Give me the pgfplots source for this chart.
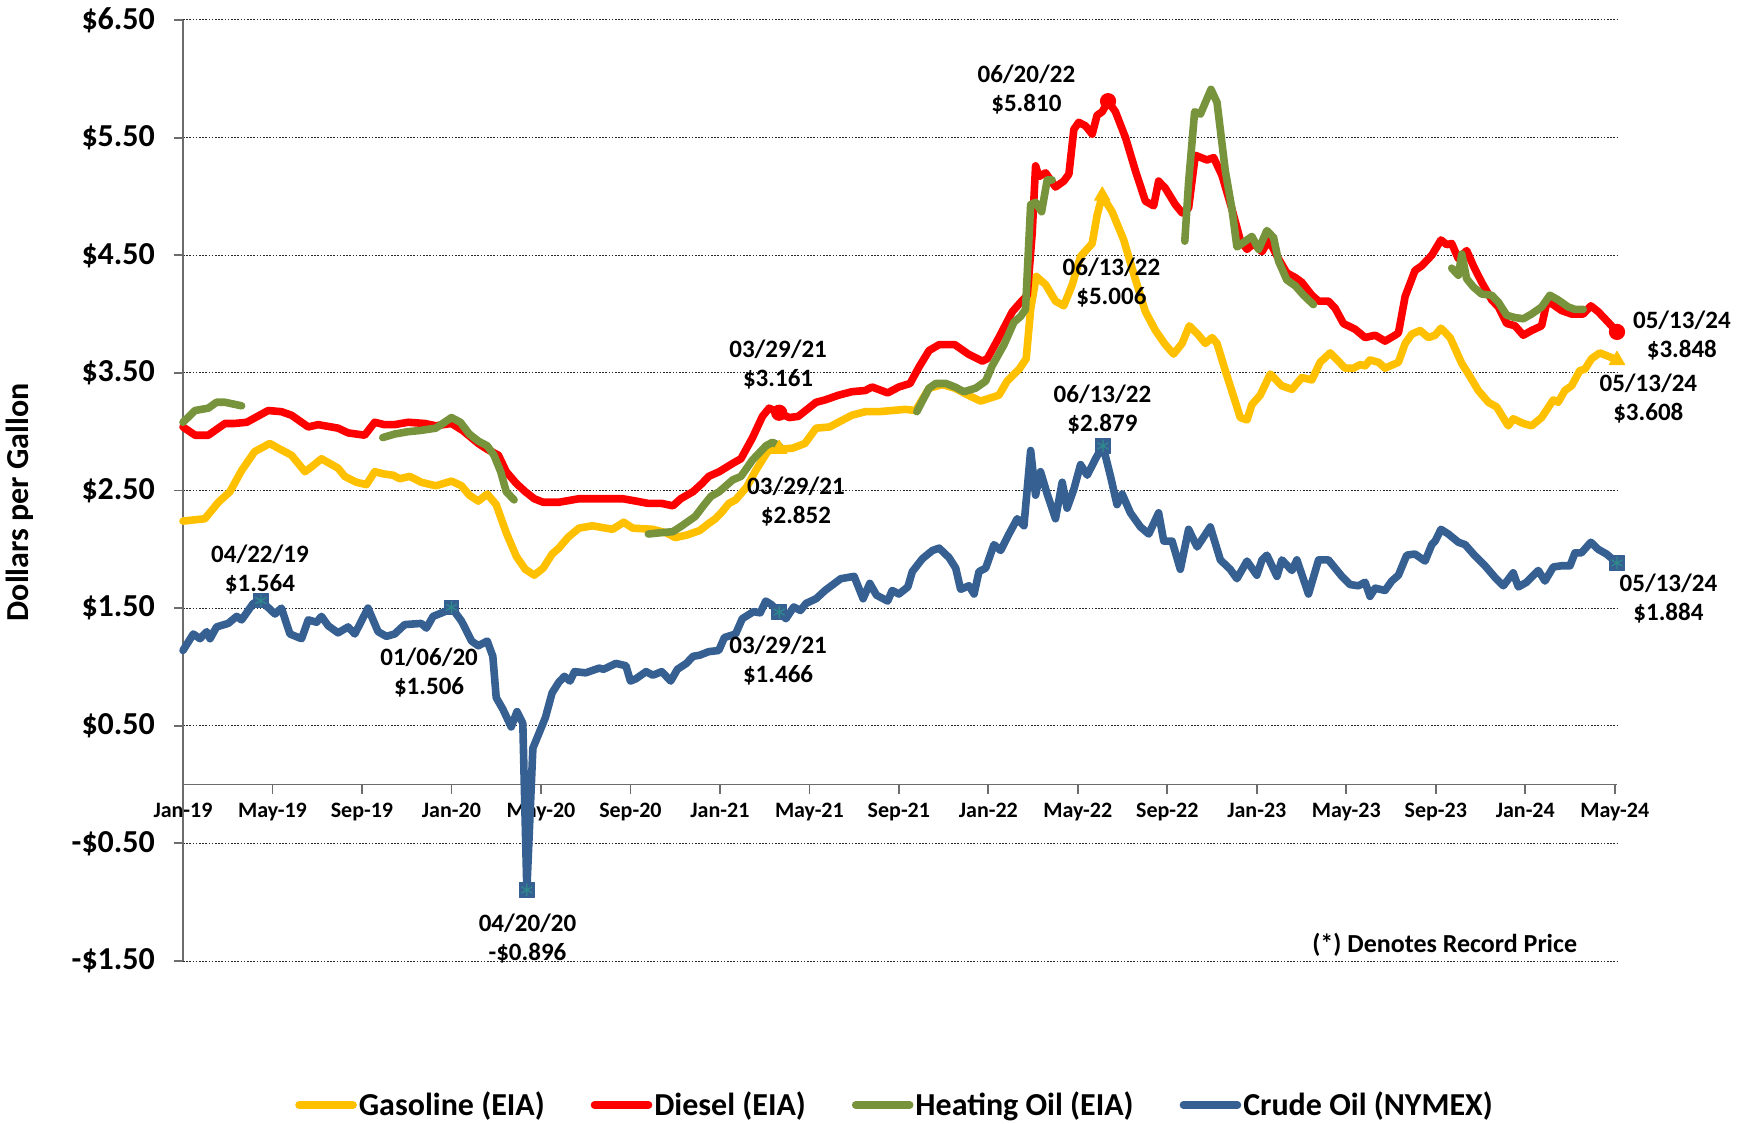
\documentclass[border=0pt]{standalone}
\usepackage{pgfplots}
\pgfplotsset{compat=1.18}
\usepackage{fontspec}
\setmainfont{Carlito}
\definecolor{gas}{HTML}{FFC000}
\definecolor{dsl}{HTML}{FF0000}
\definecolor{hoil}{HTML}{77933C}
\definecolor{crude}{HTML}{376092}
\definecolor{ast}{HTML}{2E8B8B}
\begin{document}
\begin{tikzpicture}
\begin{axis}[
  at={(0,0)}, anchor=south west,
  width=717pt, height=470.5pt, scale only axis,
  xmin=0, xmax=64.1, ymin=-1.5, ymax=6.5,
  clip=false,
  axis x line=middle, axis y line=left,
  hide obscured x ticks=false, hide obscured y ticks=false,
  axis line style={draw=gray!85!black, line width=0.9pt, -},
  tick align=outside, major tick length=4.5pt,
  major tick style={draw=gray!85!black, line width=0.9pt},
  xtick={0,4,...,64},
  xticklabels={Jan-19,May-19,Sep-19,Jan-20,May-20,Sep-20,Jan-21,May-21,Sep-21,Jan-22,May-22,Sep-22,Jan-23,May-23,Sep-23,Jan-24,May-24},
  xticklabel style={font=\bfseries\fontsize{11}{13}\selectfont, yshift=-1pt},
  ytick={-1.5,-0.5,...,6.5},
  yticklabels={-\$1.50,-\$0.50,\$0.50,\$1.50,\$2.50,\$3.50,\$4.50,\$5.50,\$6.50},
  yticklabel style={font=\bfseries\fontsize{16}{18}\selectfont, xshift=-6pt},
  ymajorgrids, grid style={black!85, line width=0.5pt, dash pattern=on 0.8pt off 0.8pt},
  every axis plot/.append style={line join=round, line cap=round, line width=3.8pt},
  legend columns=4,
  legend image code/.code={\draw[line width=3.8pt, line cap=round, #1] (0pt,0pt) -- (27pt,0pt);},
  legend style={at={(axis description cs:0.4965,-0.153)}, anchor=center, draw=none, fill=none,
    font=\bfseries\fontsize{16}{18}\selectfont,
    /tikz/every even column/.append style={column sep=22pt},
    nodes={inner xsep=1pt}},
]
\addlegendimage{gas}\addlegendentry{Gasoline (EIA)}
\addlegendimage{dsl}\addlegendentry{Diesel (EIA)}
\addlegendimage{hoil}\addlegendentry{Heating Oil (EIA)}
\addlegendimage{crude}\addlegendentry{Crude Oil (NYMEX)}

% Gasoline
\addplot[gas, forget plot] coordinates {
(0,2.24) (0.98,2.26) (1.58,2.40) (2.1,2.49) (2.62,2.67) (3.2,2.83) (3.88,2.90) (4.25,2.86) (4.85,2.80) (5.45,2.66) (5.74,2.70) (6.19,2.77) (6.93,2.69) (7.23,2.62) (7.75,2.57) (8.2,2.55) (8.57,2.66) (9.0,2.64) (9.39,2.63) (9.69,2.60) (10.13,2.62) (10.65,2.57)
(11.3,2.54) (12.0,2.58) (12.45,2.54) (12.8,2.46) (13.2,2.41) (13.6,2.47) (14.0,2.38) (14.45,2.14) (14.9,1.94) (15.3,1.83) (15.7,1.78) (16.1,1.84) (16.5,1.96) (16.8,2.01) (17.2,2.10) (17.7,2.18) (18.3,2.20) (19.2,2.17) (19.7,2.23) (20.1,2.18) (21.0,2.17) (21.6,2.14) (22.0,2.10) (22.5,2.12) (23.1,2.16) (23.5,2.22) (23.8,2.26) (24.1,2.32)
(24.4,2.39) (24.7,2.42) (25.2,2.53) (25.6,2.67) (26.06,2.81) (26.3,2.87) (26.65,2.85) (27.25,2.86) (27.8,2.90) (28.3,3.03) (28.9,3.04) (29.3,3.08) (29.9,3.14) (30.5,3.17) (31.1,3.17) (31.7,3.18) (32.3,3.19) (32.75,3.18) (33.35,3.37) (33.95,3.40) (34.5,3.37) (35.1,3.31) (35.65,3.26) (36.47,3.31)
(36.84,3.43) (37.37,3.53) (37.69,3.62) (37.89,4.04) (38.14,4.32) (38.56,4.25) (39.0,4.11) (39.37,4.07) (39.75,4.25) (40.12,4.49) (40.64,4.60) (40.86,4.84) (41.09,5.006) (41.53,4.87) (42.05,4.63) (42.5,4.34) (43.02,4.02) (43.47,3.86) (43.91,3.74) (44.28,3.66) (44.66,3.75) (44.98,3.90) (45.4,3.82)
(45.7,3.75) (46.0,3.80) (46.22,3.75) (46.59,3.52) (46.96,3.30) (47.26,3.12) (47.56,3.10) (47.78,3.23) (48.15,3.31) (48.6,3.49) (49.12,3.39) (49.57,3.36) (50.01,3.46) (50.46,3.44) (50.83,3.59) (51.28,3.67) (51.95,3.54) (52.32,3.54) (52.62,3.57) (52.84,3.56) (53.06,3.61) (53.44,3.59) (53.73,3.54) (54.33,3.59)
(54.63,3.75) (54.93,3.83) (55.3,3.86) (55.67,3.80) (55.97,3.82) (56.23,3.88) (56.64,3.80) (57.16,3.58) (57.46,3.49) (57.9,3.35) (58.35,3.25) (58.72,3.21) (59.24,3.05) (59.46,3.11) (59.91,3.07) (60.28,3.05) (60.73,3.12) (61.25,3.27) (61.47,3.25) (61.77,3.35) (62.07,3.39) (62.44,3.52) (62.66,3.53) (62.96,3.62) (63.33,3.67) (63.85,3.63) (64.1,3.608)
};
% Diesel
\addplot[dsl, forget plot] coordinates {
(0,3.04) (0.54,2.97) (1.13,2.97) (1.88,3.07) (2.32,3.07) (2.85,3.08) (3.81,3.18) (4.4,3.17) (4.85,3.14) (5.6,3.04) (6.04,3.06) (6.93,3.03) (7.38,2.99) (8.12,2.97) (8.57,3.08) (9.0,3.06) (9.46,3.06) (10.06,3.08) (10.8,3.07)
(11.3,3.05) (12.0,3.07) (12.5,3.01) (13.2,2.90) (13.6,2.85) (14.1,2.80) (14.45,2.66) (14.9,2.56) (15.3,2.49) (15.7,2.43) (16.1,2.40) (16.8,2.40) (17.7,2.43) (18.9,2.43) (19.65,2.43) (20.25,2.41) (20.8,2.39) (21.4,2.39) (21.9,2.37) (22.25,2.43) (22.8,2.49) (23.2,2.56) (23.5,2.62)
(23.97,2.66) (24.57,2.73) (24.94,2.77) (25.46,2.95) (25.9,3.13) (26.2,3.20) (26.65,3.161) (27.1,3.12) (27.5,3.13) (28.3,3.25) (28.7,3.27) (29.3,3.31) (29.9,3.34) (30.5,3.35) (30.8,3.38) (31.5,3.33) (32.0,3.38) (32.5,3.41) (32.9,3.55) (33.35,3.69) (33.8,3.74) (34.5,3.74) (35.1,3.66) (35.73,3.60) (35.95,3.62) (36.47,3.80)
(37.07,4.02) (37.44,4.10) (37.74,4.16) (37.96,4.69) (38.11,5.26) (38.26,5.17) (38.56,5.20) (39.0,5.08) (39.37,5.13) (39.6,5.19) (39.82,5.57) (40.04,5.63) (40.34,5.60) (40.64,5.53) (40.86,5.69) (41.09,5.72) (41.35,5.81) (41.68,5.72) (42.13,5.50) (42.57,5.22) (43.02,4.96) (43.39,4.92) (43.61,5.13) (43.91,5.07) (44.36,4.93) (44.66,4.86) (44.95,4.90) (45.25,5.35)
(45.77,5.31) (46.07,5.33) (46.44,5.18) (46.89,4.89) (47.26,4.63) (47.56,4.55) (47.86,4.60) (48.23,4.53) (48.53,4.63) (48.97,4.47) (49.34,4.35) (49.72,4.31) (50.01,4.27) (50.46,4.16) (50.76,4.11) (51.2,4.11) (51.5,4.05) (51.87,3.92) (52.4,3.87) (52.84,3.80) (53.29,3.82) (53.73,3.77) (54.18,3.82) (54.33,3.84)
(54.63,4.15) (55.07,4.37) (55.37,4.41) (55.82,4.50) (56.23,4.63) (56.49,4.59) (56.71,4.60) (57.01,4.47) (57.23,4.51) (57.38,4.54) (57.68,4.41) (58.05,4.27) (58.5,4.12) (58.8,4.06) (59.17,3.92) (59.54,3.90) (59.91,3.82) (60.28,3.86) (60.73,3.90) (60.95,4.09) (61.17,4.09) (61.62,4.03) (62.07,4.00) (62.59,4.00) (62.93,4.07) (63.26,4.02) (63.71,3.93) (64.1,3.848)
};
% Heating oil segments
\addplot[hoil, forget plot] coordinates {(0,3.08) (0.54,3.18) (1.13,3.20) (1.5,3.25) (1.88,3.25) (2.62,3.22)};
\addplot[hoil, forget plot] coordinates {(8.93,2.95) (9.46,2.98) (10.06,3.00) (10.6,3.01) (11.3,3.03) (12.0,3.12) (12.4,3.08) (12.8,2.98) (13.2,2.92) (13.6,2.88) (13.9,2.80) (14.2,2.66) (14.45,2.49) (14.8,2.42)};
\addplot[hoil, forget plot] coordinates {(20.8,2.13) (21.3,2.14) (21.9,2.15) (22.3,2.20) (22.9,2.28) (23.3,2.38) (23.6,2.45) (23.97,2.49) (24.57,2.59) (24.94,2.62) (25.46,2.76) (26.06,2.88) (26.35,2.91) (26.65,2.88)};
\addplot[hoil, forget plot] coordinates {(32.8,3.17) (33.35,3.37) (33.65,3.41) (34.1,3.41) (34.5,3.38) (34.91,3.34) (35.43,3.37) (35.88,3.43) (36.17,3.56) (36.7,3.74) (37.14,3.93) (37.44,3.98) (37.66,4.04) (37.89,4.93) (38.11,4.95) (38.38,4.87) (38.63,5.14) (38.85,5.14)};
\addplot[hoil, forget plot] coordinates {(44.78,4.62) (44.95,5.12) (45.22,5.72) (45.48,5.70) (45.77,5.83) (45.95,5.91) (46.22,5.80) (46.59,5.22) (46.89,4.89) (47.11,4.57) (47.41,4.61) (47.78,4.66) (48.08,4.55) (48.45,4.71) (48.75,4.65) (48.97,4.45) (49.34,4.29) (49.72,4.24) (50.09,4.16) (50.53,4.08)};
\addplot[hoil, forget plot] coordinates {(56.71,4.39) (57.01,4.33) (57.16,4.51) (57.38,4.30) (57.68,4.23) (58.05,4.17) (58.5,4.16) (58.8,4.10) (59.17,3.99) (59.54,3.97) (59.91,3.96) (60.28,4.00) (60.73,4.06) (61.1,4.16) (61.47,4.12) (61.92,4.06) (62.22,4.04) (62.59,4.04)};
% Crude
\addplot[crude, forget plot] coordinates {
(0,1.14) (0.46,1.28) (0.76,1.24) (1.06,1.30) (1.21,1.24) (1.5,1.34) (2.02,1.37) (2.4,1.43) (2.62,1.40) (3.14,1.54) (3.48,1.564) (4.11,1.45) (4.4,1.50) (4.78,1.28) (5.3,1.24) (5.6,1.40) (5.97,1.38) (6.19,1.43) (6.49,1.35) (6.93,1.29) (7.38,1.34) (7.68,1.28) (8.27,1.50) (8.72,1.30) (9.09,1.26) (9.46,1.28) (9.91,1.36) (10.65,1.37) (10.88,1.33) (11.18,1.43) (11.7,1.47) (12.0,1.506)
(12.45,1.39) (12.9,1.22) (13.2,1.18) (13.6,1.22) (13.85,1.09) (14.0,0.74) (14.3,0.64) (14.67,0.49) (14.93,0.62) (15.19,0.52) (15.37,-0.896) (15.64,0.31) (15.9,0.43) (16.2,0.57) (16.5,0.78) (16.8,0.87) (17.05,0.92) (17.3,0.88) (17.5,0.96) (18.0,0.95) (18.6,0.99) (18.8,0.98) (19.35,1.03) (19.8,1.01) (20.0,0.88) (20.25,0.90) (20.7,0.96) (21.0,0.93) (21.4,0.96) (21.8,0.88) (22.1,0.98) (22.5,1.03) (22.8,1.09) (23.1,1.10) (23.5,1.13) (23.95,1.14)
(24.2,1.25) (24.7,1.28) (25.0,1.41) (25.5,1.47) (25.8,1.46) (26.05,1.56) (26.3,1.53) (26.65,1.466) (26.95,1.41) (27.3,1.51) (27.6,1.48) (27.85,1.54) (28.3,1.58) (28.7,1.65) (29.4,1.75) (30.0,1.77) (30.4,1.58) (30.7,1.71) (31.0,1.61) (31.5,1.56) (31.7,1.65) (32.0,1.62) (32.4,1.68) (32.6,1.81) (33.05,1.92) (33.5,1.99) (33.8,2.01) (34.24,1.93)
(34.54,1.84) (34.76,1.66) (35.13,1.69) (35.36,1.62) (35.58,1.81) (35.88,1.84) (36.25,2.04) (36.55,1.99) (36.92,2.13) (37.29,2.26) (37.59,2.20) (37.89,2.84) (38.11,2.46) (38.33,2.66) (38.63,2.47) (39.0,2.26) (39.3,2.57) (39.52,2.35) (39.82,2.51) (40.12,2.72) (40.42,2.63) (40.79,2.77) (41.12,2.879) (41.46,2.62) (41.75,2.38) (41.98,2.47) (42.35,2.31) (42.8,2.19) (43.17,2.13) (43.61,2.31) (43.84,2.07) (44.21,2.07) (44.58,1.83) (44.95,2.17) (45.33,2.02)
(45.92,2.19) (46.37,1.91) (46.81,1.83) (47.11,1.75) (47.56,1.90) (48.0,1.78) (48.23,1.91) (48.45,1.95) (48.9,1.77) (49.12,1.91) (49.57,1.82) (49.79,1.91) (50.31,1.62) (50.76,1.91) (51.2,1.91) (51.8,1.77) (52.17,1.70) (52.54,1.69) (52.84,1.72) (53.06,1.60) (53.29,1.67) (53.73,1.65) (54.03,1.73) (54.33,1.78)
(54.7,1.95) (55.07,1.96) (55.52,1.90) (55.82,2.04) (55.97,2.07) (56.23,2.17) (56.56,2.13) (57.01,2.06) (57.31,2.04) (57.68,1.96) (58.2,1.86) (58.65,1.76) (59.02,1.69) (59.46,1.80) (59.69,1.68) (60.06,1.72) (60.58,1.82) (60.88,1.73) (61.25,1.85) (61.62,1.86) (62.0,1.86) (62.22,1.97) (62.51,1.97) (62.93,2.06) (63.26,2.00) (63.63,1.96) (64.1,1.884)
};
% Record markers
\addplot[only marks, mark=square*, mark size=3.6pt, mark options={fill=crude, draw=crude, line width=0.5pt}, forget plot] coordinates {(3.48,1.564) (12.0,1.506) (15.37,-0.896) (26.65,1.466) (41.12,2.879) (64.1,1.884)};
\addplot[only marks, mark=asterisk, mark size=3pt, mark options={draw=ast, line width=0.6pt}, forget plot] coordinates {(3.48,1.564) (12.0,1.506) (15.37,-0.896) (26.65,1.466) (41.12,2.879) (64.1,1.884)};
\addplot[only marks, mark=triangle*, mark size=4.4pt, mark options={fill=gas, draw=gas, line width=0.5pt}, forget plot] coordinates {(26.65,2.852) (41.09,5.006) (64.1,3.608)};
\addplot[only marks, mark=*, mark size=3.8pt, mark options={fill=dsl, draw=dsl, line width=0.5pt}, forget plot] coordinates {(26.65,3.161) (41.35,5.81) (64.1,3.848)};

% Annotations
\begin{scope}[every node/.style={align=center, font=\bfseries\fontsize{12.5}{14.5}\selectfont, inner sep=0pt}]
\node at (axis cs:3.44,1.83) {04/22/19\\\$1.564};
\node at (axis cs:11.0,0.95) {01/06/20\\\$1.506};
\node at (axis cs:15.4,-1.31) {04/20/20\\-\$0.896};
\node at (axis cs:26.6,3.57) {03/29/21\\\$3.161};
\node at (axis cs:27.4,2.41) {03/29/21\\\$2.852};
\node at (axis cs:26.6,1.05) {03/29/21\\\$1.466};
\node at (axis cs:37.7,5.91) {06/20/22\\\$5.810};
\node at (axis cs:41.5,4.27) {06/13/22\\\$5.006};
\node at (axis cs:41.1,3.19) {06/13/22\\\$2.879};
\node at (axis cs:67.0,3.82) {05/13/24\\\$3.848};
\node at (axis cs:65.5,3.28) {05/13/24\\\$3.608};
\node at (axis cs:66.4,1.58) {05/13/24\\\$1.884};
\end{scope}
\node[font=\bfseries\fontsize{13}{15}\selectfont] at (axis cs:56.4,-1.36) {(*) Denotes Record Price};
\node[rotate=90, font=\bfseries\fontsize{16}{18}\selectfont] at ([xshift=-81.5pt]axis cs:0,2.40) {Dollars per Gallon};
\end{axis}
\pgfresetboundingbox
\path[use as bounding box] (-91.5pt,-81.5pt) rectangle (781pt,480.5pt);
\end{tikzpicture}
\end{document}
